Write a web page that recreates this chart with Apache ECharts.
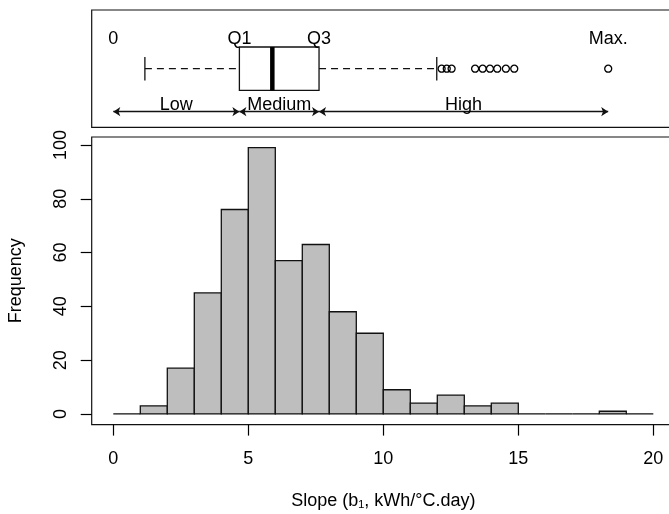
<!DOCTYPE html>
<html><head><meta charset="utf-8">
<script src="https://cdn.jsdelivr.net/npm/echarts@6/dist/echarts.min.js"></script>
<style>html,body{margin:0;padding:0;background:#fff}#c{width:669px;height:514px}</style>
</head><body><div id="c"></div>
<script>
// ---- data ----
const binEdges = [0,1,2,3,4,5,6,7,8,9,10,11,12,13,14,15,16,17,18,19,20];
const counts   = [0,3,17,45,76,99,57,63,38,30,9,4,7,3,4,0,0,0,1,0];
// lower whisker, Q1, median, Q3, upper whisker
const boxStats = [1.17, 4.67, 5.89, 7.62, 11.98];
const outliers = [12.16, 12.35, 12.53, 13.40, 13.68, 13.95, 14.22, 14.54, 14.85, 18.33];
const xTicks = [0,5,10,15,20];
const yTicks = [0,20,40,60,80,100];
const topLabels = ['0','Q1','Q3','Max.'];
const rangeLabels = ['Low','Medium','High'];
const xTitle = 'Slope (b\u2081, kWh/\u00B0C.day)';
const yTitle = 'Frequency';

// ---- layout constants (box panel y units 0..100) ----
const BOX_Y = 50, BOX_HALF = 18.5, STAPLE_HALF = 10;
const ARROW_Y = 13.4, TOP_LABEL_Y = 75.3, RANGE_LABEL_Y = 19;
const FONT = '"Liberation Sans", Arial, sans-serif';

const q1 = boxStats[1], q3 = boxStats[3];
const maxVal = outliers[outliers.length - 1];
const topLabelX = [0, q1, q3, maxVal];
const bounds = [0, q1, q3, maxVal];

const chart = echarts.init(document.getElementById('c'), null, {renderer: 'canvas'});

function textSeries(texts, xs, y) {
  return {
    type: 'custom', xAxisIndex: 0, yAxisIndex: 0, silent: true,
    data: texts.map((t, i) => [xs[i], y]),
    encode: {x: 0, y: 1},
    renderItem: function (params, api) {
      const p = api.coord([api.value(0), api.value(1)]);
      return {
        type: 'text',
        style: {text: texts[params.dataIndex], x: p[0], y: p[1], align: 'center', verticalAlign: 'middle',
                fill: '#000', fontSize: 18, fontFamily: FONT}
      };
    }
  };
}

const option = {
  animation: false,
  backgroundColor: '#fff',
  textStyle: {fontFamily: FONT},
  grid: [
    {left: 91.7, top: 10, width: 583.2, height: 117.4, show: true, borderColor: '#111', borderWidth: 1.2, backgroundColor: 'transparent', outerBoundsMode: 'none', containLabel: false},
    {left: 91.7, top: 137, width: 583.2, height: 287.6, show: true, borderColor: '#111', borderWidth: 1.2, backgroundColor: 'transparent', outerBoundsMode: 'none', containLabel: false}
  ],
  xAxis: [
    {type: 'value', gridIndex: 0, min: -0.8, max: 20.8, show: false},
    {type: 'value', gridIndex: 1, min: -0.8, max: 20.8,
      axisLine: {show: false, onZero: false}, splitLine: {show: false},
      axisTick: {show: true, customValues: xTicks, length: 11, inside: false, lineStyle: {color: '#000', width: 1.2}},
      axisLabel: {show: true, customValues: xTicks, margin: 25, fontSize: 18, color: '#000', fontFamily: FONT},
      name: xTitle, nameLocation: 'middle', nameGap: 67,
      nameTextStyle: {fontSize: 18, color: '#000', fontFamily: FONT}
    }
  ],
  yAxis: [
    {type: 'value', gridIndex: 0, min: 0, max: 100, show: false},
    {type: 'value', gridIndex: 1, min: -3.96, max: 102.96,
      axisLine: {show: false, onZero: false}, splitLine: {show: false},
      axisTick: {show: true, customValues: yTicks, length: 11, inside: false, lineStyle: {color: '#000', width: 1.2}},
      axisLabel: {show: true, customValues: yTicks, rotate: 90, margin: 22, fontSize: 18, color: '#000', fontFamily: FONT},
      name: yTitle, nameLocation: 'middle', nameGap: 67, nameRotate: 90,
      nameTextStyle: {fontSize: 18, color: '#000', fontFamily: FONT}
    }
  ],
  series: [
    // histogram
    {
      type: 'custom', xAxisIndex: 1, yAxisIndex: 1,
      data: counts.map((c, i) => [binEdges[i], binEdges[i + 1], c]),
      encode: {x: [0, 1], y: 2},
      renderItem: function (params, api) {
        const p0 = api.coord([api.value(0), api.value(2)]);
        const p1 = api.coord([api.value(1), 0]);
        return {
          type: 'rect',
          shape: {x: p0[0], y: p0[1], width: p1[0] - p0[0], height: p1[1] - p0[1]},
          style: {fill: '#bebebe', stroke: '#111', lineWidth: 1.3}
        };
      }
    },
    // box plot (R style)
    {
      type: 'custom', xAxisIndex: 0, yAxisIndex: 0,
      data: [boxStats],
      encode: {x: [0, 1, 2, 3, 4]},
      renderItem: function (params, api) {
        const wlo = api.value(0), a = api.value(1), med = api.value(2), b = api.value(3), whi = api.value(4);
        const c = (x, y) => api.coord([x, y]);
        const mid = c(0, BOX_Y)[1];
        const top = c(0, BOX_Y + BOX_HALF)[1], bot = c(0, BOX_Y - BOX_HALF)[1];
        const sTop = c(0, BOX_Y + STAPLE_HALF)[1], sBot = c(0, BOX_Y - STAPLE_HALF)[1];
        const xl = c(wlo, 0)[0], xa = c(a, 0)[0], xm = c(med, 0)[0], xb = c(b, 0)[0], xh = c(whi, 0)[0];
        const dash = {stroke: '#111', lineWidth: 1.3, lineDash: [7, 5]};
        const solid = {stroke: '#111', lineWidth: 1.3};
        return {
          type: 'group',
          children: [
            {type: 'line', shape: {x1: xl, y1: mid, x2: xa, y2: mid}, style: dash},
            {type: 'line', shape: {x1: xb, y1: mid, x2: xh, y2: mid}, style: dash},
            {type: 'line', shape: {x1: xl, y1: sTop, x2: xl, y2: sBot}, style: solid},
            {type: 'line', shape: {x1: xh, y1: sTop, x2: xh, y2: sBot}, style: solid},
            {type: 'rect', shape: {x: xa, y: top, width: xb - xa, height: bot - top}, style: {fill: '#fff', stroke: '#111', lineWidth: 1.3}},
            {type: 'line', shape: {x1: xm, y1: top, x2: xm, y2: bot}, style: {stroke: '#000', lineWidth: 4.5}}
          ]
        };
      }
    },
    // outliers
    {
      type: 'scatter', xAxisIndex: 0, yAxisIndex: 0,
      data: outliers.map(v => [v, BOX_Y]),
      symbol: 'circle', symbolSize: 7,
      itemStyle: {color: 'rgba(0,0,0,0)', borderColor: '#000', borderWidth: 1.3, opacity: 1},
      silent: true
    },
    // range arrows
    {
      type: 'lines', coordinateSystem: 'cartesian2d', xAxisIndex: 0, yAxisIndex: 0,
      data: rangeLabels.map((n, i) => ({coords: [[bounds[i], ARROW_Y], [bounds[i + 1], ARROW_Y]]})),
      symbol: ['arrow', 'arrow'], symbolSize: 7,
      lineStyle: {color: '#111', width: 1.3, opacity: 1},
      silent: true
    },
    textSeries(topLabels, topLabelX, TOP_LABEL_Y),
    textSeries(rangeLabels, rangeLabels.map((t, i) => (bounds[i] + bounds[i + 1]) / 2), RANGE_LABEL_Y)
  ]
};
chart.setOption(option);
</script></body></html>
